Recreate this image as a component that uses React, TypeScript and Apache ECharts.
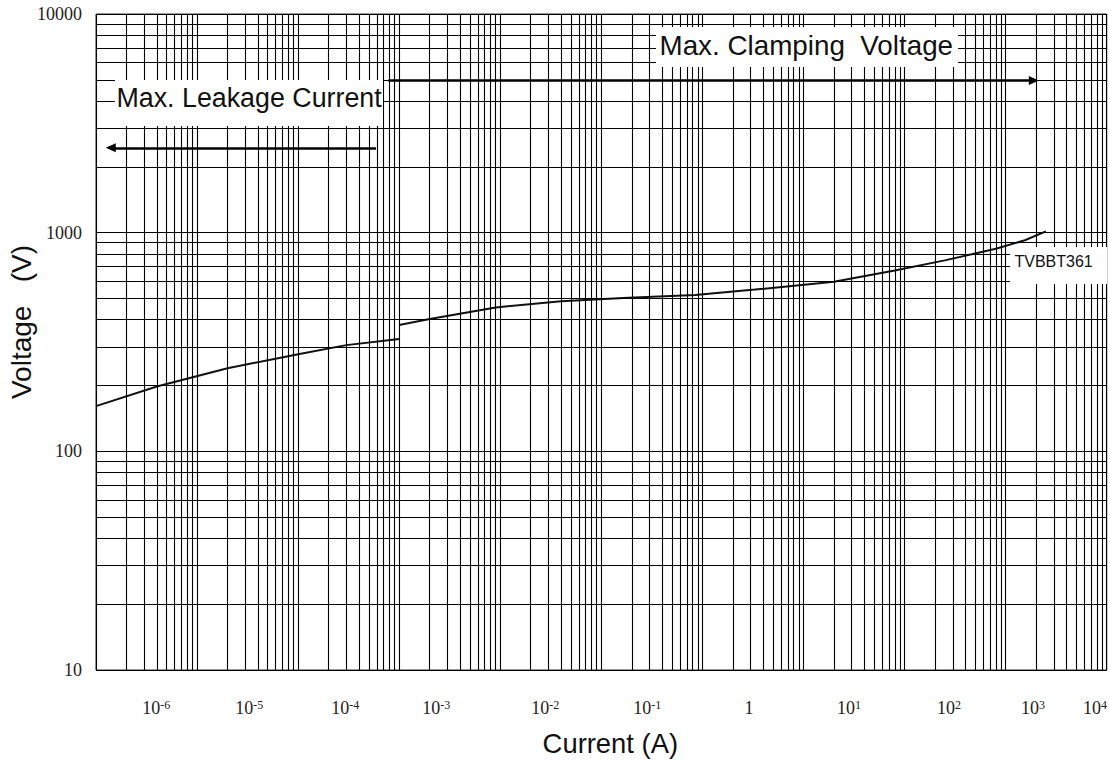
import React, { useEffect, useRef } from 'react';
import * as echarts from 'echarts';

// ---- data ----
// Leakage region (left branch) : current (A) vs voltage (V)
const leakCurrent = [1e-7, 4e-7, 2e-6, 1e-5, 3e-5, 1e-4];
const leakVoltage = [161, 198, 240, 278, 306, 326];
// Clamping region (right branch)
const clampCurrent = [1e-4, 2e-4, 5e-4, 9e-4, 4e-3, 0.0185, 0.085, 0.33, 2, 8, 25, 80, 155, 250];
const clampVoltage = [378, 403, 434, 455, 486, 504, 519, 549, 597, 672, 747, 844, 923, 1014];

// axis extents
const xMin = 1e-7;
const xMax = 1e3;
const yMin = 10;
const yMax = 10000;

// log grid
const gridDecadesX = [-7, -6, -5, -4, -3, -2, -1, 0, 1, 2];
const gridDecadesY = [1, 2, 3];
const gridMultipliers = [1, 2, 3, 4, 5, 6, 7, 8, 9];

// bottom tick labels (exponents of ten) and their positions in decades from the left edge
const xTickExponents = [-6, -5, -4, -3, -2, -1, 0, 1, 2, 3, 4];
const xTickPos = [0.596, 1.516, 2.466, 3.366, 4.444, 5.453, 6.462, 7.451, 8.44, 9.271, 9.885];

// annotation arrows: [fromCurrent, toCurrent, voltage]
const leakageArrow = [5.9e-5, 1.4e-7, 2443];
const clampingArrow = [7.8e-5, 190, 4962];

const SANS = '"Liberation Sans", Arial, Helvetica, sans-serif';
const SERIF = '"Liberation Serif", "Times New Roman", serif';

function buildGrid(decades: number[], mults: number[]) {
  const out: number[] = [];
  decades.forEach((d) => mults.forEach((m) => out.push(m * Math.pow(10, d))));
  out.push(Math.pow(10, decades[decades.length - 1] + 1));
  return out;
}

export default function App() {
  const ref = useRef<HTMLDivElement>(null);

  useEffect(() => {
    if (!ref.current) return;
    const chart = echarts.init(ref.current, null, { renderer: 'svg' });
    const xGrid = buildGrid(gridDecadesX, gridMultipliers);
    const yGrid = buildGrid(gridDecadesY, gridMultipliers);

    const option: any = {
      animation: false,
      backgroundColor: '#ffffff',
      grid: {
        left: 96,
        right: 2.3,
        top: 14,
        bottom: 92,
        outerBoundsMode: 'none',
        containLabel: false,
        show: true,
        borderColor: '#333',
        borderWidth: 1,
        backgroundColor: 'transparent',
      },
      xAxis: [
        {
          type: 'log',
          logBase: 10,
          min: xMin,
          max: xMax,
          position: 'top',
          axisLine: { show: false },
          axisTick: { show: false },
          axisLabel: { show: false },
          splitLine: { show: false },
        },
        {
          type: 'value',
          min: 0,
          max: 10,
          position: 'bottom',
          axisLine: { show: false },
          axisTick: { show: false },
          splitLine: { show: false },
          axisLabel: {
            customValues: xTickPos,
            margin: 29,
            formatter: (v: number) => {
              let idx = 0;
              let best = Infinity;
              xTickPos.forEach((p, i) => {
                const d = Math.abs(p - v);
                if (d < best) {
                  best = d;
                  idx = i;
                }
              });
              const e = xTickExponents[idx];
              return e === 0 ? '{b|1}' : `{b|10}{s|${e}}`;
            },
            rich: {
              b: { fontSize: 18, fontFamily: SERIF, color: '#222', lineHeight: 18 },
              s: { fontSize: 12, fontFamily: SERIF, color: '#222', lineHeight: 12, verticalAlign: 'top' },
            },
          },
          name: 'Current (A)',
          nameLocation: 'middle',
          nameGap: 60,
          nameMoveOverlap: false,
          nameTextStyle: { fontSize: 27.4, fontFamily: SANS, color: '#111', padding: [0, 0, 0, 18] },
        },
      ],
      yAxis: {
        type: 'log',
        logBase: 10,
        min: yMin,
        max: yMax,
        axisLine: { show: false },
        axisTick: { show: false },
        splitLine: { show: false },
        axisLabel: {
          margin: 14,
          fontSize: 18,
          fontFamily: SERIF,
          color: '#222',
          formatter: (v: number) => String(Math.round(v)),
        },
        name: 'Voltage   (V)',
        nameLocation: 'middle',
        nameGap: 61,
        nameMoveOverlap: false,
        nameTextStyle: { fontSize: 28, fontFamily: SANS, color: '#111', padding: [0, 0, 0, 40] },
      },
      series: [
        {
          name: 'grid',
          type: 'line',
          xAxisIndex: 0,
          yAxisIndex: 0,
          data: [],
          silent: true,
          z: 1,
          markLine: {
            silent: true,
            animation: false,
            symbol: ['none', 'none'],
            label: { show: false },
            emphasis: { disabled: true },
            lineStyle: { color: '#000', width: 1.1, type: 'solid', opacity: 1 },
            data: [
              ...xGrid.map((v) => [{ coord: [v, yMin] }, { coord: [v, yMax] }]),
              ...yGrid.map((v) => [{ coord: [xMin, v] }, { coord: [xMax, v] }]),
            ],
          },
        },
        {
          name: 'leakage',
          type: 'line',
          xAxisIndex: 0,
          yAxisIndex: 0,
          data: leakCurrent.map((c, i) => [c, leakVoltage[i]]),
          showSymbol: false,
          lineStyle: { color: '#111', width: 2 },
          silent: true,
          z: 3,
        },
        {
          name: 'clamping',
          type: 'line',
          xAxisIndex: 0,
          yAxisIndex: 0,
          data: clampCurrent.map((c, i) => [c, clampVoltage[i]]),
          showSymbol: false,
          lineStyle: { color: '#111', width: 2 },
          silent: true,
          z: 3,
        },
        {
          name: 'arrows',
          type: 'line',
          xAxisIndex: 0,
          yAxisIndex: 0,
          data: [],
          silent: true,
          z: 4,
          markLine: {
            silent: true,
            animation: false,
            symbol: ['none', 'triangle'],
            symbolSize: [9, 10],
            label: { show: false },
            emphasis: { disabled: true },
            lineStyle: { color: '#000', width: 2.5, type: 'solid' },
            data: [
              [
                { coord: [leakageArrow[0], leakageArrow[2]] },
                { coord: [leakageArrow[1], leakageArrow[2]] },
              ],
              [
                { coord: [clampingArrow[0], clampingArrow[2]] },
                { coord: [clampingArrow[1], clampingArrow[2]] },
              ],
            ],
          },
        },
      ],
      graphic: [
        { type: 'rect', z: 100, silent: true, shape: { x: 115, y: 80, width: 268, height: 46 }, style: { fill: '#fff' } },
        {
          type: 'text', z: 101, silent: true, x: 116.5, y: 97.5,
          style: { text: 'Max. Leakage Current', font: `26.8px ${SANS}`, fill: '#111', verticalAlign: 'middle', align: 'left' },
        },
        { type: 'rect', z: 100, silent: true, shape: { x: 656, y: 27, width: 302, height: 40 }, style: { fill: '#fff' } },
        {
          type: 'text', z: 101, silent: true, x: 659.5, y: 45.5,
          style: { text: 'Max. Clamping  Voltage', font: `27.8px ${SANS}`, fill: '#111', verticalAlign: 'middle', align: 'left' },
        },
        { type: 'rect', z: 100, silent: true, shape: { x: 1010, y: 247, width: 97, height: 37 }, style: { fill: '#fff' } },
        {
          type: 'text', z: 101, silent: true, x: 1014.5, y: 261,
          style: { text: 'TVBBT361', font: `16px ${SANS}`, fill: '#111', verticalAlign: 'middle', align: 'left' },
        },
      ],
    };

    chart.setOption(option);
    return () => chart.dispose();
  }, []);

  return (
    <div
      ref={ref}
      style={{ position: 'fixed', left: 0, top: 0, width: 1109, height: 762, background: '#fff' }}
    />
  );
}
